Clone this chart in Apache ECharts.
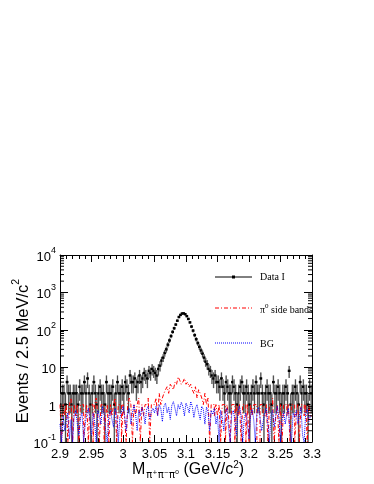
<!DOCTYPE html>
<html>
<head>
<meta charset="utf-8">
<script src="https://cdn.jsdelivr.net/npm/echarts@6/dist/echarts.min.js"></script>
<style>
html, body { margin: 0; padding: 0; background: #fff; }
#main { width: 374px; height: 484px; }
</style>
</head>
<body>
<div id="main"></div>
<script>
// binning: 2.5 MeV/c^2 from 2.9 to 3.3
var xMin = 2.9, xMax = 3.3, binW = 0.0025;
var xTickLabels = ['2.9', '2.95', '3', '3.05', '3.1', '3.15', '3.2', '3.25', '3.3'];
var yMinorTicks = [0.2, 0.3, 0.4, 0.5, 0.6, 0.7, 0.8, 0.9, 2, 3, 4, 5, 6, 7, 8, 9,
  20, 30, 40, 50, 60, 70, 80, 90, 200, 300, 400, 500, 600, 700, 800, 900,
  2000, 3000, 4000, 5000, 6000, 7000, 8000, 9000];

// Data I (events per bin)
var dataI = [
  1, 2, 2, 1, 4, 2, 2, 1, 2, 2, 2, 1, 3, 2, 2, 4, 2, 5, 2, 1,
  2, 4, 2, 1, 2, 3, 2, 2, 1, 4, 2, 2, 2, 3, 1, 2, 4, 2, 2, 3,
  2, 4, 3, 2, 6, 4, 4, 5, 3, 4, 6, 4, 5, 7, 6, 5, 8, 7, 9, 8,
  7, 6, 9, 11, 15, 18, 24, 30, 40, 52, 68, 88, 110, 138, 175, 220, 250, 272, 275, 262,
  232, 195, 158, 122, 95, 72, 56, 44, 35, 28, 23, 18, 14, 12, 9, 8, 6, 5, 6, 4,
  4, 3, 5, 3, 2, 4, 3, 2, 2, 4, 3, 2, 1, 2, 3, 4, 2, 2, 3, 2,
  1, 2, 3, 2, 4, 2, 2, 5, 2, 1, 2, 3, 2, 2, 1, 4, 2, 2, 3, 2,
  1, 2, 2, 3, 2, 8, 1, 2, 2, 3, 2, 1, 4, 2, 3, 2, 2, 1, 3, 2
];

// pi0 side bands
var sideBands = [
  1, 0, 1, 0.5, 1, 0, 1, 1.5, 0, 1, 0.5, 1, 0, 1, 1, 0, 0.5, 1, 0, 1,
  1, 0, 1, 1.5, 0.5, 0, 1, 1, 0, 0.5, 1, 0, 1, 0.5, 1, 1.5, 0, 1, 1, 0,
  1, 0.5, 0, 1, 1.5, 1, 0, 1, 0.5, 1, 1.5, 0, 1, 0.5, 1, 1, 1.5, 0, 1, 1,
  1, 1.5, 0.5, 2, 1, 1.5, 2, 2.5, 3, 2, 3.5, 3, 2.5, 4, 3.5, 5.5, 4.5, 3.5, 4, 5,
  3.5, 4, 3, 3.5, 2.5, 2, 3, 1.5, 2.5, 2, 1.5, 1, 2, 1, 1.5, 0, 1, 1, 0.5, 1,
  0.5, 1, 0, 1, 1, 0, 1, 0.5, 0, 1, 1, 0, 1, 0.5, 1, 0, 1, 1, 0, 1,
  0, 1, 0.5, 1, 1, 0, 0, 1, 1, 0.5, 0.5, 1, 0, 1, 1, 1.5, 0, 0.5, 1, 0,
  1, 0, 1, 1, 0.5, 1, 0, 1, 1, 0, 0.5, 1, 0, 1, 1, 0.5, 1, 0, 1, 0.5
];

// BG
var bgMC = [
  0.3, 0, 0.5, 0.2, 0.35, 0.6, 0.12, 0.4, 0, 0.5, 0.7, 0.3, 0.15, 0.45, 0.6, 0, 0.3, 0.55, 0.8, 0.4,
  0.15, 0.6, 0.35, 0, 0.7, 0.5, 0.3, 0.9, 0.6, 0.2, 0, 0.5, 0.7, 0.4, 0.25, 0.8, 0.55, 0, 0.45, 0.6,
  0.9, 0.5, 0.2, 0.7, 0.8, 0.3, 0.6, 1.0, 0.55, 0.2, 0.7, 0.5, 0.85, 0.6, 0.3, 0.75, 0.9, 0.4, 0.65, 0.8,
  0.6, 0.9, 0.5, 1.0, 0.8, 0.35, 0.9, 1.1, 0.6, 0.85, 0.4, 0.95, 1.2, 0.8, 0.5, 1.0, 0.75, 1.15, 0.9, 0.5,
  1.1, 0.85, 0.6, 1.2, 0.9, 0.45, 0.8, 1.0, 0.6, 0.4, 0.9, 0.75, 0.3, 0.85, 0.65, 0.2, 0.7, 0.55, 0.8, 0.3,
  0.5, 0, 0.7, 0.45, 0.2, 0.6, 0.8, 0.25, 0, 0.55, 0.7, 0.4, 0.15, 0.65, 0.9, 0.5, 0, 0.45, 0.6, 0.3,
  0.12, 0.5, 0.75, 0.4, 0, 0.6, 0.85, 0.45, 0.2, 0.35, 0.6, 0.8, 0.3, 0, 0.55, 0.7, 0.25, 0.5, 0.9, 0.45,
  0, 0.4, 0.65, 0.3, 0.55, 0.8, 0.2, 0, 0.6, 0.45, 0.7, 0.3, 0.5, 0.85, 0.15, 0, 0.6, 0.75, 0.35, 0.5
];

var chart = echarts.init(document.getElementById('main'));

function binCenter(i) { return xMin + (i + 0.5) * binW; }

// histogram outline: two points per bin at its edges
function histLine(vals) {
  var pts = [];
  vals.forEach(function (v, i) {
    var y = Math.max(v, 0.1);
    var lo = xMin + i * binW;
    pts.push([lo, y], [lo + binW, y]);
  });
  return pts;
}

function renderData(params, api) {
  var x = api.value(0), n = api.value(1);
  if (!(n > 0)) return;
  var e = Math.sqrt(n);
  var lo = Math.max(n - e, 0.1), hi = n + e;
  var tl = api.coord([x - binW / 2, hi]);
  var br = api.coord([x + binW / 2, lo]);
  var c = api.coord([x, n]);
  return {
    type: 'group',
    children: [
      { type: 'rect', shape: { x: tl[0], y: tl[1], width: br[0] - tl[0], height: br[1] - tl[1] },
        style: { fill: '#a3a3a3' } },
      { type: 'line', shape: { x1: c[0], y1: tl[1], x2: c[0], y2: br[1] },
        style: { stroke: '#111', lineWidth: 0.6 } },
      { type: 'rect', shape: { x: c[0] - 1.4, y: c[1] - 1.2, width: 2.8, height: 2.4 },
        style: { fill: '#000' } }
    ]
  };
}

function renderMinorTick(params, api) {
  var v = api.value(1);
  var l = api.coord([xMin, v]);
  var r = api.coord([xMax, v]);
  return {
    type: 'group',
    children: [
      { type: 'line', shape: { x1: l[0], y1: l[1], x2: l[0] + 4, y2: l[1] }, style: { stroke: '#000', lineWidth: 1 } },
      { type: 'line', shape: { x1: r[0], y1: r[1], x2: r[0] - 4, y2: r[1] }, style: { stroke: '#000', lineWidth: 1 } }
    ]
  };
}

function yLabel(v) {
  var e = Math.round(Math.log10(v));
  if (e === 0) return '{b|1}';
  if (e === 1) return '{b|10}';
  return '{b|10}{s|' + e + '}';
}

var labelRich = {
  b: { fontSize: 13, fontFamily: 'Liberation Sans', color: '#000', lineHeight: 18, verticalAlign: 'bottom' },
  s: { fontSize: 9, fontFamily: 'Liberation Sans', color: '#000', lineHeight: 10, verticalAlign: 'top' }
};

var xAxisBase = {
  type: 'value', min: xMin, max: xMax, interval: 0.05,
  axisLine: { show: true, onZero: false, lineStyle: { color: '#000', width: 1 } },
  axisTick: { show: true, inside: true, length: 7, lineStyle: { color: '#000' } },
  minorTick: { show: true, splitNumber: 5, length: 4, lineStyle: { color: '#000' } },
  splitLine: { show: false }
};
var yAxisBase = {
  type: 'log', logBase: 10, min: 0.1, max: 10000,
  axisLine: { show: true, onZero: false, lineStyle: { color: '#000', width: 1 } },
  axisTick: { show: true, inside: true, length: 8, lineStyle: { color: '#000' } },
  splitLine: { show: false }
};

var option = {
  animation: false,
  backgroundColor: '#fff',
  grid: { left: 60, top: 255, width: 252, height: 187, containLabel: false },
  xAxis: [
    echarts.util.merge({
      position: 'bottom',
      axisLabel: {
        margin: 6, color: '#000', fontSize: 13, fontFamily: 'Liberation Sans',
        formatter: function (v) { return xTickLabels[Math.round((v - xMin) / 0.05)]; }
      }
    }, xAxisBase, true),
    echarts.util.merge({ position: 'top', axisLabel: { show: false } }, xAxisBase, true)
  ],
  yAxis: [
    echarts.util.merge({
      position: 'left',
      axisLabel: { margin: 4, formatter: yLabel, rich: labelRich }
    }, yAxisBase, true),
    echarts.util.merge({ position: 'right', axisLabel: { show: false } }, yAxisBase, true)
  ],
  series: [
    {
      name: 'Data I', type: 'custom', z: 2, clip: true,
      renderItem: renderData,
      encode: { x: 0, y: 1 },
      data: dataI.map(function (v, i) { return [binCenter(i), v]; })
    },
    {
      name: 'pi0 side bands', type: 'line', z: 3, clip: true,
      showSymbol: false, symbol: 'none',
      lineStyle: { color: '#ff0000', width: 1, type: [4, 2, 1, 2] },
      data: histLine(sideBands)
    },
    {
      name: 'BG', type: 'line', z: 3, clip: true,
      showSymbol: false, symbol: 'none',
      lineStyle: { color: '#0000ff', width: 1, type: [1, 1] },
      data: histLine(bgMC)
    },
    {
      name: 'minor ticks', type: 'custom', z: 4, clip: false,
      renderItem: renderMinorTick,
      data: yMinorTicks.map(function (v) { return [xMin, v]; })
    }
  ],
  graphic: [
    // y axis title
    {
      type: 'text', x: 21, y: 351, rotation: Math.PI / 2,
      style: {
        text: '{t|Events / 2.5 MeV/c}{p|2}',
        align: 'center', verticalAlign: 'middle',
        rich: {
          t: { fontSize: 16.5, fontFamily: 'Liberation Sans', fill: '#000', lineHeight: 21, verticalAlign: 'bottom' },
          p: { fontSize: 10.5, fontFamily: 'Liberation Sans', fill: '#000', lineHeight: 11, verticalAlign: 'top' }
        }
      }
    },
    // x axis title
    {
      type: 'text', x: 132, y: 470,
      style: {
        text: '{t|M}{sub|π⁺π⁻π⁰}{t| (GeV/c}{p|2}{t|)}',
        align: 'left', verticalAlign: 'middle',
        rich: {
          t: { fontSize: 16, fontFamily: 'Liberation Sans', fill: '#000', lineHeight: 20, verticalAlign: 'middle' },
          sub: { fontSize: 10, fontFamily: 'DejaVu Sans', fill: '#000', lineHeight: 10, verticalAlign: 'bottom', padding: [0, 0, 0, 1] },
          p: { fontSize: 10, fontFamily: 'Liberation Sans', fill: '#000', lineHeight: 10, verticalAlign: 'top' }
        }
      }
    },
    // legend: Data I
    { type: 'line', shape: { x1: 215, y1: 277, x2: 252, y2: 277 }, style: { stroke: '#000', lineWidth: 1 } },
    { type: 'rect', shape: { x: 232, y: 275.5, width: 3, height: 3 }, style: { fill: '#000' } },
    { type: 'text', x: 260, y: 277, style: { text: 'Data I', font: '10px "Liberation Serif"', fill: '#000', verticalAlign: 'middle' } },
    // legend: side bands
    { type: 'line', shape: { x1: 215, y1: 308, x2: 252, y2: 308 }, style: { stroke: '#ff0000', lineWidth: 1, lineDash: [4, 2, 1, 2] } },
    {
      type: 'text', x: 260, y: 309,
      style: {
        text: '{a|π}{s|0}{a| side bands}', verticalAlign: 'middle',
        rich: {
          a: { fontSize: 10, fontFamily: 'Liberation Serif', fill: '#000', lineHeight: 13, verticalAlign: 'bottom' },
          s: { fontSize: 7, fontFamily: 'Liberation Serif', fill: '#000', lineHeight: 7, verticalAlign: 'top' }
        }
      }
    },
    // legend: BG
    { type: 'line', shape: { x1: 215, y1: 343, x2: 252, y2: 343 }, style: { stroke: '#0000ff', lineWidth: 1, lineDash: [1, 1] } },
    { type: 'text', x: 260, y: 344, style: { text: 'BG', font: '10px "Liberation Serif"', fill: '#000', verticalAlign: 'middle' } }
  ]
};

chart.setOption(option);
</script>
</body>
</html>
